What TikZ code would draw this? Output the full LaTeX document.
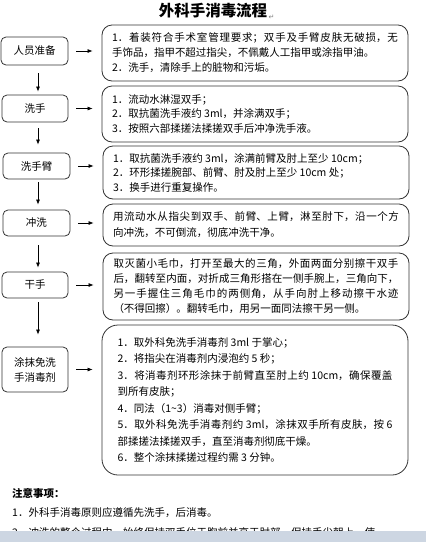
\documentclass[tikz,border=0pt]{standalone}
\usepackage{fontspec}
\setmainfont{Noto Sans CJK SC}
\newfontfamily\dejavu{DejaVu Sans}
\XeTeXlinebreaklocale "zh"
\XeTeXlinebreakskip=0pt plus 2pt
\usetikzlibrary{arrows.meta}
\definecolor{barcol}{HTML}{CDD6E2}
\definecolor{linecol}{HTML}{333333}
\begin{document}
\begin{tikzpicture}[x=1pt,y=-1pt,
  lbox/.style={draw=linecol, line width=0.8pt, rounded corners=5pt, inner sep=0pt,
    align=center, font=\fontsize{10.5}{15}\selectfont},
  rbox/.style={draw=linecol, line width=0.8pt, rounded corners=10pt, inner sep=0pt,
    minimum width=306pt, align=justify},
  arr/.style={-{Latex[length=5pt,width=4pt]}, line width=0.7pt, draw=black},
  note/.style={anchor=west, inner sep=0pt, font=\fontsize{10.5}{15}\selectfont}
]
\useasboundingbox (0,0) rectangle (426,542);
\coordinate (col) at (38,0);

% title
\node[inner sep=0pt] (title) at (213,11) {\fontsize{15.5}{18}\selectfont\bfseries 外科手消毒流程};
\node[anchor=south west, inner sep=0pt, text=gray] (tmark) at ([xshift=1pt,yshift=-1pt]title.south east) {\dejavu\fontsize{7}{8}\selectfont ↵};

% left column
\node[lbox, minimum width=67pt, minimum height=28pt] (L1) at (34.5,51) {人员准备};
\node[lbox, minimum width=66pt, minimum height=27pt] (L2) at (35,108.5) {洗手};
\node[lbox, minimum width=67pt, minimum height=26pt] (L3) at (36.5,166) {洗手臂};
\node[lbox, minimum width=67pt, minimum height=26pt] (L4) at (36.5,223) {冲洗};
\node[lbox, minimum width=66pt, minimum height=26pt] (L5) at (35,285) {干手};
\node[lbox, minimum width=66pt, minimum height=45pt] (L6) at (35,369.5) {涂抹免洗\\手消毒剂};

% right column
\node[rbox, minimum height=56pt, text width=286pt, font=\fontsize{10.5}{15}\selectfont] (R1) at (255,53) {%
1．着装符合手术室管理要求；双手及手臂皮肤无破损，无\linebreak
手饰品，指甲不超过指尖，不佩戴人工指甲或涂指甲油。\\
2．洗手，清除手上的脏物和污垢。};

\node[rbox, minimum height=56pt, text width=286pt, font=\fontsize{10.5}{14.5}\selectfont] (R2) at (255,114) {%
1．流动水淋湿双手；\\
2．取抗菌洗手液约 3ml，并涂满双手；\\
3．按照六部揉搓法揉搓双手后冲净洗手液。};

\node[rbox, minimum height=53pt, text width=286pt, font=\fontsize{10.5}{14.5}\selectfont] (R3) at (256,172.5) {%
1．取抗菌洗手液约 3ml，涂满前臂及肘上至少 10cm；\\
2．环形揉搓腕部、前臂、肘及肘上至少 10cm 处；\\
3．换手进行重复操作。};

\node[rbox, minimum height=42pt, text width=286pt, font=\fontsize{10.5}{16}\selectfont] (R4) at (256,225) {%
用流动水从指尖到双手、前臂、上臂，淋至肘下，沿一个方\linebreak
向冲洗，不可倒流，彻底冲洗干净。};

\node[rbox, minimum height=67pt, text width=285pt, font=\fontsize{10.5}{15}\selectfont] (R5) at (256,286.5) {%
取灭菌小毛巾，打开至最大的三角，外面两面分别擦干双手\linebreak
后，翻转至内面，对折成三角形搭在一侧手腕上，三角向下，\linebreak
另一手握住三角毛巾的两侧角，从手向肘上移动擦干水迹\linebreak
（不得回擦）。翻转毛巾，用另一面同法擦干另一侧。};

\node[rbox, rounded corners=16pt, minimum height=150pt, text width=275pt, font=\fontsize{10.5}{16.5}\selectfont] (R6) at (255,400) {%
1．取外科免洗手消毒剂 3ml 于掌心；\\
2．将指尖在消毒剂内浸泡约 5 秒；\\
3．将消毒剂环形涂抹于前臂直至肘上约 10cm，确保覆盖\linebreak
到所有皮肤；\\
4．同法（1\textasciitilde 3）消毒对侧手臂；\\
5．取外科免洗手消毒剂约 3ml，涂抹双手所有皮肤，按 6\linebreak
部揉搓法揉搓双手，直至消毒剂彻底干燥。\\
6．整个涂抹揉搓过程约需 3 分钟。};

% down arrows
\draw[arr] ([yshift=-8pt]L1.south -| col) -- ([yshift=3pt]L2.north -| col);
\draw[arr] ([yshift=-6pt]L2.south -| col) -- ([yshift=8pt]L3.north -| col);
\draw[arr] ([yshift=-3pt]L3.south -| col) -- ([yshift=5pt]L4.north -| col);
\draw[arr] ([yshift=-9pt]L4.south -| col) -- ([yshift=4pt]L5.north -| col);
\draw[arr] ([yshift=-4pt]L5.south -| col) -- ([yshift=12pt]L6.north -| col);

% right arrows
\foreach \i in {1,...,6}{
  \draw[arr] ([xshift=8pt]L\i.east) -- ([xshift=-9pt]L\i.east -| R\i.west);
}

% notes
\node[note, font=\fontsize{10.5}{15}\selectfont\bfseries] (nt) at (12,493) {注意事项：};
\node[note] (n1) at (12,513) {1．外科手消毒原则应遵循先洗手，后消毒。};
\node[note] (n2) at (12,533) {2．冲洗的整个过程中，始终保持双手位于胸前并高于肘部，保持手尖朝上，使};
\fill[barcol] (0,530.5) rectangle (426,542);
\end{tikzpicture}
\end{document}
